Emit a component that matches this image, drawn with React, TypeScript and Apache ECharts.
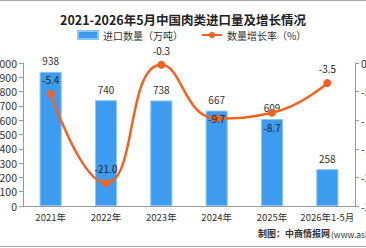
import React, { useEffect, useRef } from "react";
import * as echarts from "echarts";

const categories = ["2021年", "2022年", "2023年", "2024年", "2025年", "2026年1-5月"];
const importVolume = [938, 740, 738, 667, 609, 258];
const growthRate = [-5.4, -21.0, -0.3, -9.7, -8.7, -3.5];

const FONT = "'Noto Sans CJK SC', 'DejaVu Sans', sans-serif";

// where each growth-rate label sits relative to its point
const rateLabelPlacement = ["top", "top", "top", "inside", "bottom", "top"];

export default function App() {
  const ref = useRef<HTMLDivElement>(null);

  useEffect(() => {
    if (!ref.current) return;
    const chart = echarts.init(ref.current, undefined, { renderer: "svg" });
    chart.setOption({
      animation: false,
      backgroundColor: "#ffffff",
      textStyle: { fontFamily: FONT },
      title: {
        text: "2021-2026年5月中国肉类进口量及增长情况",
        left: "center",
        top: 12,
        padding: 0,
        textStyle: { fontSize: 12.5, fontWeight: "bold", color: "#222", fontFamily: FONT, lineHeight: 14 },
      },
      legend: {
        top: 28,
        left: 72,
        itemGap: 18,
        itemWidth: 20,
        itemHeight: 8,
        padding: [1, 5],
        textStyle: { fontSize: 10, color: "#333", fontFamily: FONT, lineHeight: 12 },
        data: [
          { name: "进口数量（万吨）", icon: "rect" },
          { name: "数量增长率（%）" },
        ],
      },
      grid: { left: 23, right: 11, top: 63, bottom: 42, outerBoundsMode: "none" },
      xAxis: {
        type: "category",
        data: categories,
        axisLine: { lineStyle: { color: "#999" } },
        axisTick: { lineStyle: { color: "#999" } },
        axisLabel: { color: "#333", fontSize: 9.5, margin: 6, interval: 0 },
      },
      yAxis: [
        {
          type: "value",
          min: 0,
          max: 1000,
          interval: 100,
          splitLine: { show: false },
          axisLine: { show: true, lineStyle: { color: "#999" } },
          axisTick: { show: true, length: 4, lineStyle: { color: "#999" } },
          axisLabel: { color: "#333", fontSize: 10.5, margin: 6, formatter: (v: number) => String(v) },
        },
        {
          type: "value",
          min: -25,
          max: 0,
          interval: 5,
          splitLine: { show: false },
          axisLine: { show: true, lineStyle: { color: "#999" } },
          axisTick: { show: true, length: 4, lineStyle: { color: "#999" } },
          axisLabel: { color: "#333", fontSize: 10.5, margin: 6 },
        },
      ],
      series: [
        {
          name: "进口数量（万吨）",
          type: "bar",
          data: importVolume,
          barWidth: "40%",
          itemStyle: { color: "#3d9cf0", borderColor: "#8cc6f6", borderWidth: 1 },
          label: { show: true, position: "top", color: "#333", fontSize: 10, distance: 6 },
        },
        {
          name: "数量增长率（%）",
          type: "line",
          yAxisIndex: 1,
          data: growthRate.map((v, i) => ({
            value: v,
            label: { position: rateLabelPlacement[i] },
          })),
          smooth: 0.5,
          symbol: "circle",
          symbolSize: 8,
          lineStyle: { color: "#f5621f", width: 2.5 },
          itemStyle: { color: "#f5621f" },
          label: {
            show: true,
            position: "top",
            color: "#222",
            fontSize: 10,
            lineHeight: 11,
            distance: 5,
            formatter: (p: any) => Number(p.value).toFixed(1),
          },
        },
      ],
      graphic: [
        { type: "line", shape: { x1: 0, y1: 0.5, x2: 366, y2: 0.5 }, style: { stroke: "#aaa", lineWidth: 1 } },
        { type: "line", shape: { x1: 0, y1: 246.5, x2: 366, y2: 246.5 }, style: { stroke: "#aaa", lineWidth: 1 } },
        {
          type: "text",
          left: 258,
          top: 229,
          style: { text: "制图：中商情报网", fontSize: 9, fontWeight: "bold", fill: "#333", fontFamily: FONT },
        },
        {
          type: "text",
          left: 331,
          top: 230,
          style: { text: "(www.askci.com)", fontSize: 8.5, fill: "#333", fontFamily: FONT },
        },
      ],
    });
    return () => chart.dispose();
  }, []);

  return <div ref={ref} style={{ position: "absolute", left: 0, top: 0, width: 366, height: 248 }} />;
}
